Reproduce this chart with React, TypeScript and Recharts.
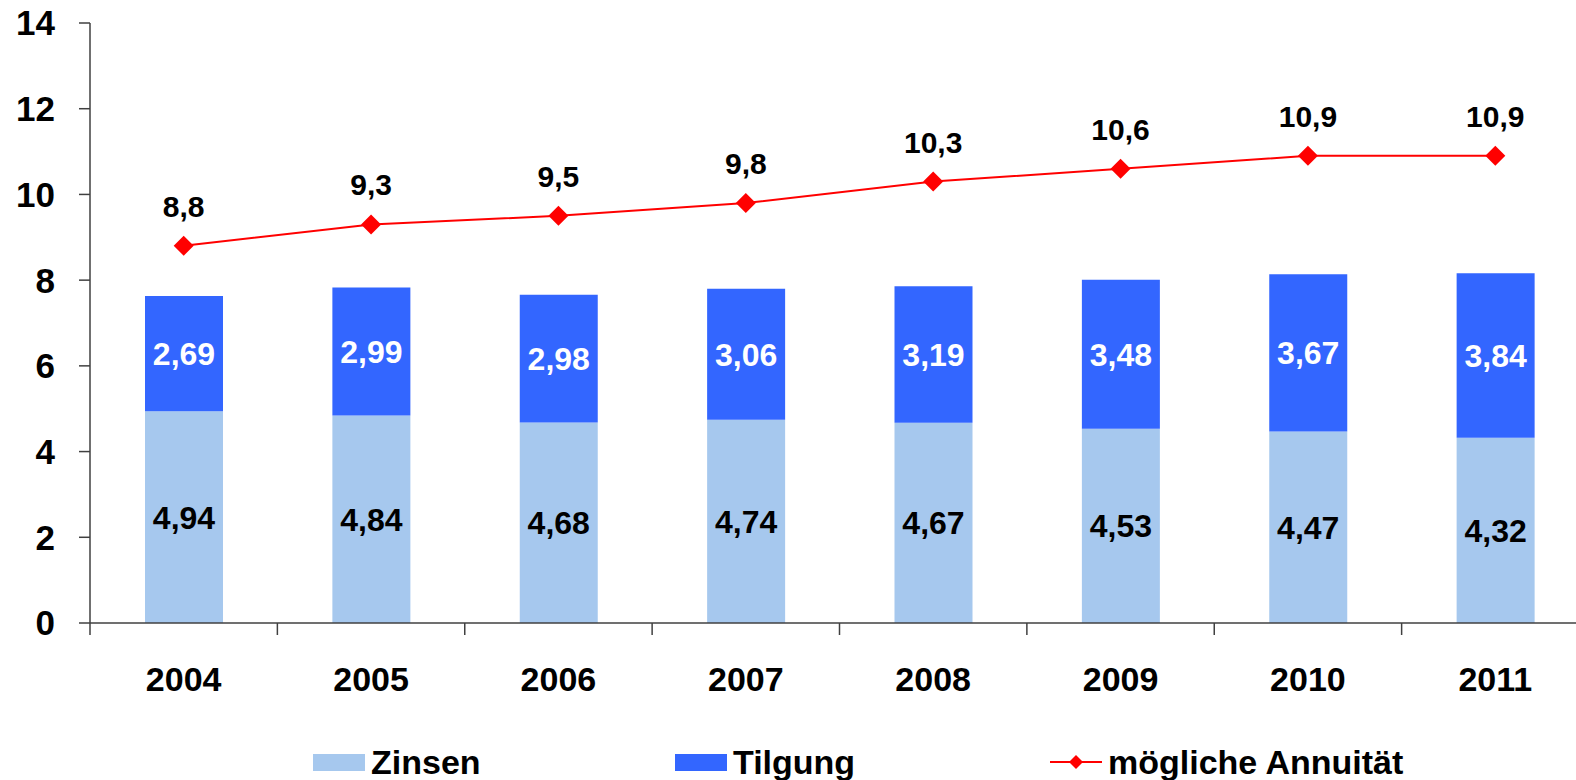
import { ComposedChart, Bar, Line, XAxis, YAxis, LabelList, Legend } from 'recharts'

const years = ['2004', '2005', '2006', '2007', '2008', '2009', '2010', '2011']
const zinsen = [4.94, 4.84, 4.68, 4.74, 4.67, 4.53, 4.47, 4.32]
const tilgung = [2.69, 2.99, 2.98, 3.06, 3.19, 3.48, 3.67, 3.84]
const annuitaet = [8.8, 9.3, 9.5, 9.8, 10.3, 10.6, 10.9, 10.9]
const yTicks = [0, 2, 4, 6, 8, 10, 12, 14]

const FONT = "'Liberation Sans', Arial, sans-serif"
const LIGHT = '#A6C8EE'
const DARK = '#3366FF'
const RED = '#FF0000'
const AXIS = '#404040'
const X_TICK_SIZE = 12
const X_TICK_MARGIN = 32

const data = years.map((year, i) => ({
  year,
  zinsen: zinsen[i],
  tilgung: tilgung[i],
  annuitaet: annuitaet[i],
}))

const fmt2 = (v: any) => Number(v).toFixed(2).replace('.', ',')
const fmt1 = (v: any) => Number(v).toFixed(1).replace('.', ',')

const Diamond = (props: any) => {
  const { cx, cy } = props
  if (cx == null || cy == null) return null
  const r = 10
  return (
    <polygon
      points={`${cx},${cy - r} ${cx + r},${cy} ${cx},${cy + r} ${cx - r},${cy}`}
      fill={RED}
    />
  )
}

// year label plus tick marks on the category boundaries (like Excel)
const YearTick = (props: any) => {
  const { x, y, payload, index, visibleTicksCount } = props
  const half = payload?.offset ?? 0
  const axisY = y - X_TICK_SIZE - X_TICK_MARGIN
  const last = index === visibleTicksCount - 1
  return (
    <g>
      <line x1={x - half} y1={axisY} x2={x - half} y2={axisY + X_TICK_SIZE} stroke={AXIS} strokeWidth={1.5} />
      {last && (
        <line x1={x + half} y1={axisY} x2={x + half} y2={axisY + X_TICK_SIZE} stroke={AXIS} strokeWidth={1.5} />
      )}
      <text
        x={x}
        y={y}
        dy="0.71em"
        textAnchor="middle"
        fill="#000"
        fontSize={34}
        fontWeight="bold"
        fontFamily={FONT}
      >
        {payload.value}
      </text>
    </g>
  )
}

const legendItems = [
  { name: 'Zinsen', kind: 'box', color: LIGHT, left: 313 },
  { name: 'Tilgung', kind: 'box', color: DARK, left: 675 },
  { name: 'mögliche Annuität', kind: 'line', color: RED, left: 1050 },
]

const CustomLegend = () => (
  <div style={{ position: 'relative', width: 1576, height: 60 }}>
    {legendItems.map((item) => (
      <div
        key={item.name}
        style={{
          position: 'absolute',
          left: item.left,
          top: 24,
          height: 36,
          display: 'flex',
          alignItems: 'center',
          fontFamily: FONT,
          fontWeight: 'bold',
          fontSize: 34,
          color: '#000',
        }}
      >
        {item.kind === 'box' ? (
          <div style={{ width: 52, height: 17, background: item.color, marginRight: 6 }} />
        ) : (
          <svg width={52} height={20} style={{ marginRight: 6 }}>
            <line x1={0} y1={10} x2={52} y2={10} stroke={item.color} strokeWidth={2} />
            <polygon points="26,3 33,10 26,17 19,10" fill={item.color} />
          </svg>
        )}
        <span>{item.name}</span>
      </div>
    ))}
  </div>
)

export default function App() {
  return (
    <div style={{ position: 'fixed', left: 0, top: 0, width: 1576, height: 780, background: '#fff', overflow: 'hidden' }}>
      <ComposedChart
        width={1589}
        height={780}
        data={data}
        margin={{ top: 23, right: 0, bottom: 0, left: 0 }}
      >
        <XAxis
          dataKey="year"
          height={97}
          tickLine={false}
          tickSize={X_TICK_SIZE}
          tickMargin={X_TICK_MARGIN}
          axisLine={{ stroke: AXIS, strokeWidth: 1.5 }}
          tick={<YearTick />}
        />
        <YAxis
          width={90}
          domain={[0, 14]}
          ticks={yTicks}
          tickSize={11}
          tickMargin={24}
          axisLine={{ stroke: AXIS, strokeWidth: 1.5 }}
          tickLine={{ stroke: AXIS, strokeWidth: 1.5 }}
          tick={{ fill: '#000', fontSize: 35, fontWeight: 'bold', fontFamily: FONT }}
        />
        <Legend verticalAlign="bottom" content={<CustomLegend />} />
        <Bar dataKey="zinsen" name="Zinsen" stackId="a" fill={LIGHT} barSize={78} isAnimationActive={false}>
          <LabelList
            dataKey="zinsen"
            position="center"
            formatter={fmt2}
            fill="#000"
            style={{ fontSize: 32, fontWeight: 'bold', fontFamily: FONT }}
          />
        </Bar>
        <Bar dataKey="tilgung" name="Tilgung" stackId="a" fill={DARK} barSize={78} isAnimationActive={false}>
          <LabelList
            dataKey="tilgung"
            position="center"
            formatter={fmt2}
            fill="#fff"
            style={{ fontSize: 32, fontWeight: 'bold', fontFamily: FONT }}
          />
        </Bar>
        <Line
          dataKey="annuitaet"
          name="mögliche Annuität"
          stroke={RED}
          strokeWidth={2}
          dot={<Diamond />}
          activeDot={false}
          isAnimationActive={false}
        >
          <LabelList
            dataKey="annuitaet"
            position="top"
            offset={29}
            formatter={fmt1}
            fill="#000"
            style={{ fontSize: 30, fontWeight: 'bold', fontFamily: FONT }}
          />
        </Line>
      </ComposedChart>
    </div>
  )
}
